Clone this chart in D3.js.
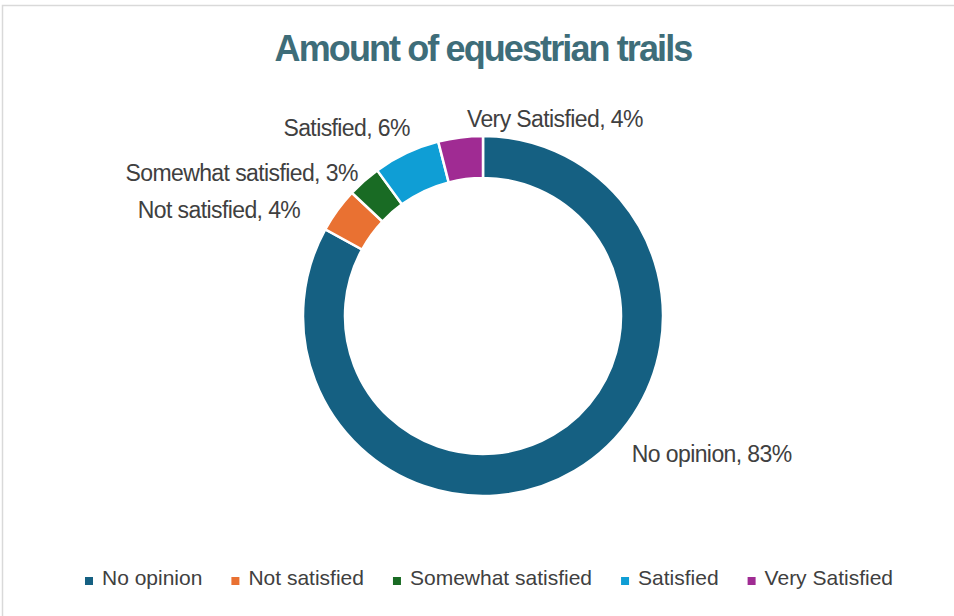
<!DOCTYPE html>
<html>
<head>
<meta charset="utf-8">
<script src="https://cdn.jsdelivr.net/npm/d3@7"></script>
<style>
  body { margin: 0; background: #fff; }
  svg text { font-family: "Liberation Sans", Arial, sans-serif; }
</style>
</head>
<body>
<div id="chart"></div>
<script>
// chart data
const categories = ['No opinion', 'Not satisfied', 'Somewhat satisfied', 'Satisfied', 'Very Satisfied'];
const shares = [83, 4, 3, 6, 4];
const colors = ['#156082', '#E97132', '#196B24', '#0F9ED5', '#A02B93'];
const title = 'Amount of equestrian trails';

// label placement (dx, dy from the label arc point) and anchor, like Excel's best fit
const labelNudge = [[47, -26], [-21, 20], [7, 15], [12, 1], [9, 9]];
const labelAnchor = ['start', 'end', 'end', 'end', 'start'];

const width = 954, height = 616;
const cx = 483, cy = 316;
const outerR = 180, innerR = 138;

const svg = d3.select('#chart')
  .append('svg')
  .attr('width', width)
  .attr('height', height);

// chart area border
svg.append('rect')
  .attr('x', 2.5).attr('y', 5.5)
  .attr('width', width + 10).attr('height', height + 10)
  .attr('fill', 'none')
  .attr('stroke', '#d9d9d9')
  .attr('stroke-width', 1.5);

svg.append('text')
  .attr('x', cx).attr('y', 61)
  .attr('text-anchor', 'middle')
  .attr('font-size', 36)
  .attr('font-weight', 'bold')
  .attr('letter-spacing', -1.9)
  .attr('fill', '#3E6D79')
  .text(title);

const data = categories.map((c, i) => ({
  name: c, value: shares[i], color: colors[i], nudge: labelNudge[i], anchor: labelAnchor[i]
}));

const pie = d3.pie().sort(null).value(d => d.value);
const arcs = pie(data);

const arc = d3.arc().innerRadius(innerR).outerRadius(outerR);
const labelArc = d3.arc().innerRadius(200).outerRadius(200);

const g = svg.append('g').attr('transform', `translate(${cx},${cy})`);

g.selectAll('path')
  .data(arcs)
  .enter()
  .append('path')
  .attr('d', arc)
  .attr('fill', d => d.data.color)
  .attr('stroke', '#fff')
  .attr('stroke-width', 2.5);

g.selectAll('.label')
  .data(arcs)
  .enter()
  .append('text')
  .attr('class', 'label')
  .attr('x', d => labelArc.centroid(d)[0] + d.data.nudge[0])
  .attr('y', d => labelArc.centroid(d)[1] + d.data.nudge[1])
  .attr('text-anchor', d => d.data.anchor)
  .attr('font-size', 23)
  .attr('letter-spacing', -0.6)
  .attr('fill', '#404040')
  .text(d => `${d.data.name}, ${d.data.value}%`);

// legend
const legend = svg.append('g');
const items = legend.selectAll('g')
  .data(data)
  .enter()
  .append('g');

items.append('rect')
  .attr('width', 8).attr('height', 8)
  .attr('y', -8)
  .attr('fill', d => d.color);

items.append('text')
  .attr('x', 17)
  .attr('font-size', 21)
  .attr('letter-spacing', 0)
  .attr('fill', '#404040')
  .text(d => d.name);

let offset = 0;
items.each(function () {
  const w = d3.select(this).select('text').node().getComputedTextLength();
  d3.select(this).attr('transform', `translate(${offset},0)`);
  offset += 17 + w + 29;
});
const total = offset - 29;
legend.attr('transform', `translate(${489 - total / 2},585)`);
</script>
</body>
</html>
